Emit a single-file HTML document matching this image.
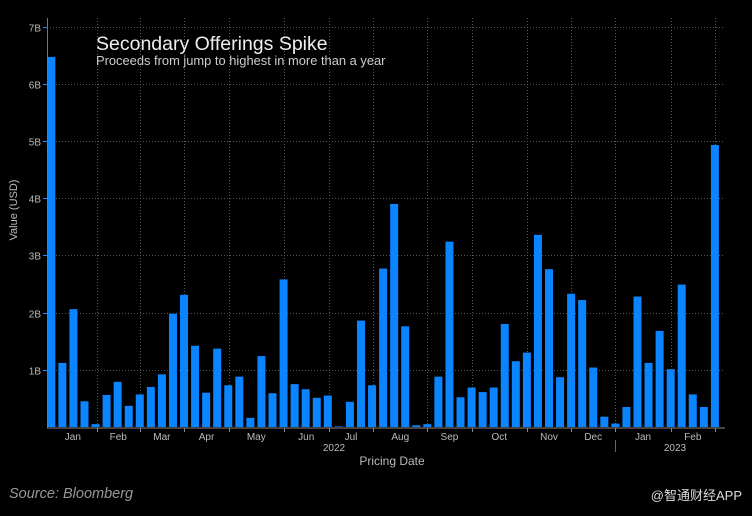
<!DOCTYPE html>
<html><head><meta charset="utf-8"><style>
html,body{margin:0;padding:0;background:#000;}
svg{display:block;font-family:"Liberation Sans","Noto Sans CJK SC",sans-serif;}
</style></head><body>
<svg id="chart" width="752" height="516" viewBox="0 0 752 516">
<rect width="752" height="516" fill="#000"/>
<g id="grid"></g>
<g id="bars"></g>
<g id="axes"></g>
<text x="96" y="50" fill="#eee" font-size="19.5">Secondary Offerings Spike</text>
<text x="96" y="65" fill="#ccc" font-size="12.9">Proceeds from jump to highest in more than a year</text>
<text transform="translate(17,210) rotate(-90)" fill="#bbb" font-size="11" text-anchor="middle">Value (USD)</text>
<text x="392" y="465" fill="#bbb" font-size="12" text-anchor="middle">Pricing Date</text>
<text x="334" y="451" fill="#bbb" font-size="10" text-anchor="middle">2022</text>
<text x="675" y="451" fill="#bbb" font-size="10" text-anchor="middle">2023</text>
<line x1="615.5" y1="440" x2="615.5" y2="452" stroke="#666"/>
<text x="9" y="498" fill="#999" font-size="14.5" font-style="italic">Source: Bloomberg</text>
<text x="742" y="500" fill="#ddd" font-size="13" text-anchor="end">@智通财经APP</text>
</svg>
<script>
const values=[6.47,1.12,2.06,0.45,0.05,0.56,0.79,0.37,0.57,0.70,0.92,1.98,2.31,1.42,0.60,1.37,0.73,0.88,0.16,1.24,0.59,2.58,0.75,0.66,0.51,0.55,0.01,0.44,1.86,0.73,2.77,3.90,1.76,0.03,0.05,0.88,3.24,0.52,0.69,0.61,0.69,1.80,1.15,1.30,3.36,2.76,0.87,2.33,2.22,1.04,0.18,0.06,0.35,2.28,1.12,1.68,1.01,2.49,0.57,0.35,4.93];
const yTicks=[1,2,3,4,5,6,7];
const yTickLabels=["1B","2B","3B","4B","5B","6B","7B"];
const monthLabels=["Jan","Feb","Mar","Apr","May","Jun","Jul","Aug","Sep","Oct","Nov","Dec","Jan","Feb"];
const monthStarts=[-0.2,4.1,8,12,16.07,21,25.1,29.1,34,38,43,47,51,56,60];
const NS="http://www.w3.org/2000/svg";
const x0=51.3,step=11.06,barW=8;
const xPos=i=>x0+i*step;
const yPos=v=>427-v*57.2;
function mk(t,a,p){const e=document.createElementNS(NS,t);for(const k in a)e.setAttribute(k,a[k]);p.appendChild(e);return e;}
const grid=document.getElementById('grid'),bars=document.getElementById('bars'),axes=document.getElementById('axes');
yTicks.forEach((v,i)=>{
 const y=Math.round(yPos(v))+0.5;
 const l=mk('line',{x1:47,x2:725,y1:y,y2:y,stroke:'#555','stroke-dasharray':'1,2'},grid);
 
 
 const tk=mk('line',{x1:43,x2:47,y1:y,y2:y,stroke:'#1a8cff'},axes);
 
 
 const t=mk('text',{x:41,y:y+4,fill:'#bbb','font-size':10,'text-anchor':'end'},axes);
 t.textContent=yTickLabels[i];
 
 
});
monthStarts.forEach((m,i)=>{
 const x=Math.round(xPos(m))+0.5;
 if(i>0){
  const l=mk('line',{x1:x,x2:x,y1:18,y2:427,stroke:'#555','stroke-dasharray':'1,2'},grid);
  
  
  const tk=mk('line',{x1:x,x2:x,y1:428,y2:432,stroke:'#888'},axes);
  
  
 }
 if(i<monthLabels.length){
  const cx=(xPos(m)+xPos(monthStarts[i+1]))/2;
  const t=mk('text',{x:cx,y:440,fill:'#bbb','font-size':10,'text-anchor':'middle'},axes);
  t.textContent=monthLabels[i];
  
  
 }
});
values.forEach((v,i)=>{
 const y=yPos(v);
 const r=mk('rect',{x:xPos(i)-barW/2,y:y,width:barW,height:Math.max(427-y,0.5),fill:'#0a84ff'},bars);
 
 
});
const ax=mk('line',{x1:47,x2:725,y1:428,y2:428,stroke:'#888'},axes);


const ay=mk('line',{x1:47.5,x2:47.5,y1:18,y2:428,stroke:'#1a8cff'},axes);


</script>
</body></html>
